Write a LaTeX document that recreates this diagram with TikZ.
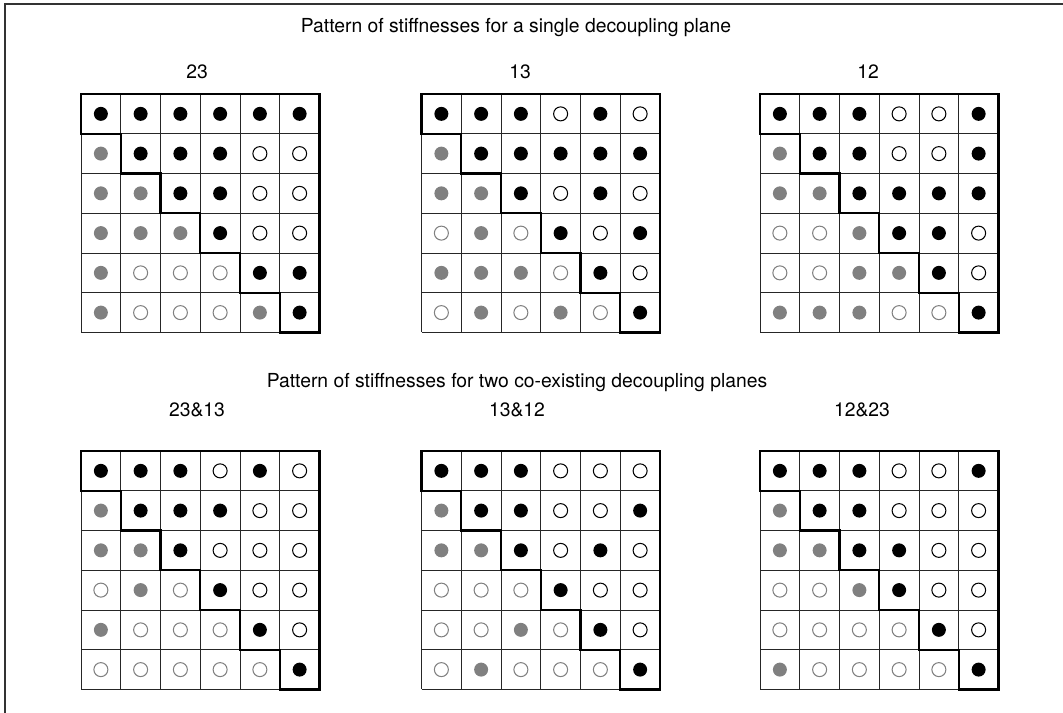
\documentclass[tikz,border=0pt]{standalone}
\usepackage{fontspec}
\setmainfont{TeX Gyre Heros}
\definecolor{dotgray}{RGB}{128,128,128}
\tikzset{
  gridline/.style={line width=0.5pt, black!85},
  bandline/.style={line width=1.2pt, black, line join=miter},
  dotB/.style={fill=black},
  dotG/.style={fill=dotgray},
  doto/.style={draw=black, line width=0.6pt},
  dotg/.style={draw=dotgray, line width=0.6pt},
  caption/.style={font=\fontsize{11}{13}\selectfont, inner sep=0pt}
}

\begin{document}
\begin{tikzpicture}
\useasboundingbox (0,0) rectangle (21.260,14.260);
% frame
\draw[line width=0.8pt, black!80] (0.100,0) -- (0.100,14.180) -- (21.260,14.180);
% headings
\node[caption] (single) at (10.320,13.700) {Pattern of stiffnesses for a single decoupling plane};
\node[caption] (double) at (10.340,6.600) {Pattern of stiffnesses for two co-existing decoupling planes};
\node[caption] (lab23) at (3.940,12.820) {23};
\node[caption] (lab13) at (10.400,12.820) {13};
\node[caption] (lab12) at (17.360,12.820) {12};
\node[caption] (lab2313) at (3.940,6.060) {23\&13};
\node[caption] (lab1312) at (10.340,6.060) {13\&12};
\node[caption] (lab1223) at (17.240,6.060) {12\&23};
% matrices
\foreach \sx/\sy/\rows in {
  1.620/12.380/{{B,B,B,B,B,B},{G,B,B,B,o,o},{G,G,B,B,o,o},{G,G,G,B,o,o},{G,g,g,g,B,B},{G,g,g,g,G,B}},
  8.430/12.380/{{B,B,B,o,B,o},{G,B,B,B,B,B},{G,G,B,o,B,o},{g,G,g,B,o,B},{G,G,G,g,B,o},{g,G,g,G,g,B}},
  15.200/12.380/{{B,B,B,o,o,B},{G,B,B,o,o,B},{G,G,B,B,B,B},{g,g,G,B,B,o},{g,g,G,G,B,o},{G,G,G,g,g,B}},
  1.620/5.240/{{B,B,B,o,B,o},{G,B,B,B,o,o},{G,G,B,o,o,o},{g,G,g,B,o,o},{G,g,g,g,B,o},{g,g,g,g,g,B}},
  8.430/5.240/{{B,B,B,o,o,o},{G,B,B,o,o,B},{G,G,B,o,B,o},{g,g,g,B,o,o},{g,g,G,g,B,o},{g,G,g,g,g,B}},
  15.200/5.240/{{B,B,B,o,o,B},{G,B,B,o,o,o},{G,G,B,B,o,o},{g,g,G,B,o,o},{g,g,g,g,B,o},{G,g,g,g,g,B}}}
{
\begin{scope}[shift={(\sx,\sy)}]
\foreach \i in {0,...,6} {
  \draw[gridline] (\i*0.795,0) -- (\i*0.795,-4.770);
  \draw[gridline] (0,-\i*0.795) -- (4.770,-\i*0.795);
}
\draw[bandline] (0,0) -- (4.770,0) -- (4.770,-4.770) -- (3.975,-4.770) -- (3.975,-3.975)
  -- (3.180,-3.975) -- (3.180,-3.180) -- (2.385,-3.180) -- (2.385,-2.385) -- (1.590,-2.385)
  -- (1.590,-1.590) -- (0.795,-1.590) -- (0.795,-0.795) -- (0,-0.795) -- cycle;
\foreach \row [count=\r from 0] in \rows {
  \foreach \k [count=\c from 0] in \row {
    \path[dot\k] (\c*0.795+0.3975,-\r*0.795-0.3975) circle (0.140);
  }
}
\end{scope}
}
\end{tikzpicture}
\end{document}
